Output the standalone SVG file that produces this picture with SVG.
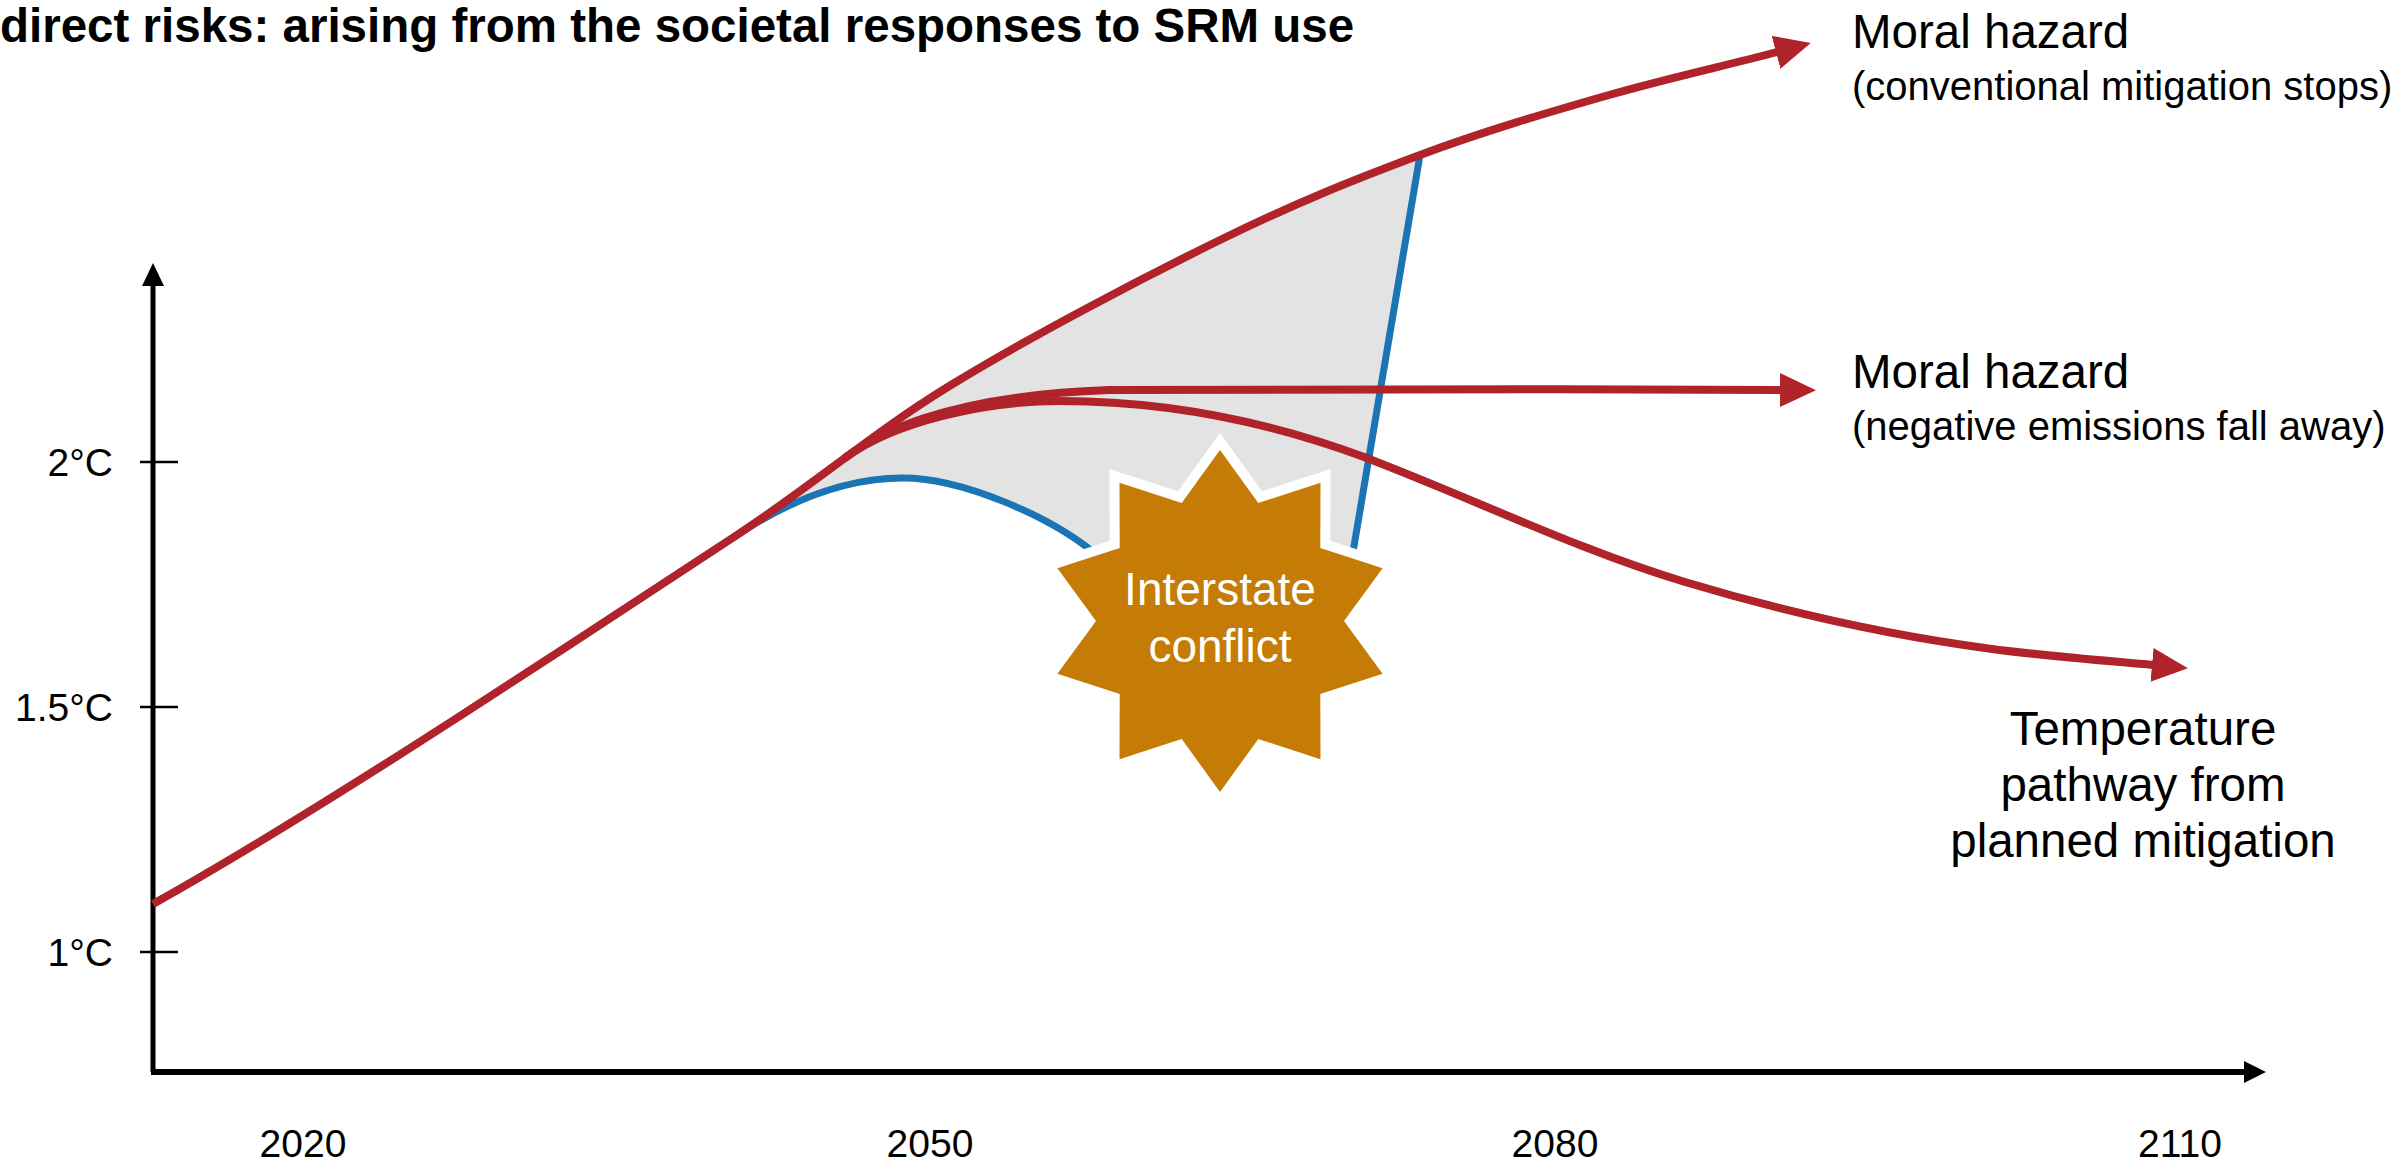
<svg xmlns="http://www.w3.org/2000/svg" width="2402" height="1175" viewBox="0 0 2402 1175">
<style>
.lbl{font-family:"Liberation Sans",Arial,sans-serif;fill:#000}
.big{font-size:47.5px}
.small{font-size:40px}
.tick{font-size:39px}
.red{fill:none;stroke:#b0232b;stroke-width:8}
.blue{fill:none;stroke:#1b74b3;stroke-width:7}
.axis{stroke:#000;fill:none}
</style>
<defs>
<marker id="ah" markerUnits="userSpaceOnUse" markerWidth="40" markerHeight="36" refX="1" refY="17" orient="auto">
<path d="M0,0 L36,17 L0,34 Z" fill="#b0232b"/>
</marker>
</defs>
<rect width="2402" height="1175" fill="#fff"/>

<g id="title">
<text class="lbl" x="0" y="42" font-size="47.5" font-weight="bold">direct risks: arising from the societal responses to SRM use</text>
</g>

<g id="axes">
<line class="axis" x1="153" y1="1072" x2="153" y2="283" stroke-width="5"/>
<polygon points="142,286 164,286 153,263" fill="#000"/>
<line class="axis" x1="151" y1="1072" x2="2246" y2="1072" stroke-width="6"/>
<polygon points="2244,1061 2244,1083 2266,1072" fill="#000"/>
<line class="axis" x1="140" y1="462" x2="178" y2="462" stroke-width="2.5"/>
<line class="axis" x1="140" y1="707" x2="178" y2="707" stroke-width="2.5"/>
<line class="axis" x1="140" y1="952" x2="178" y2="952" stroke-width="2.5"/>
<text class="lbl tick" x="113" y="476" text-anchor="end">2°C</text>
<text class="lbl tick" x="113" y="721" text-anchor="end">1.5°C</text>
<text class="lbl tick" x="113" y="966" text-anchor="end">1°C</text>
<text class="lbl tick" x="303" y="1157" text-anchor="middle">2020</text>
<text class="lbl tick" x="930" y="1157" text-anchor="middle">2050</text>
<text class="lbl tick" x="1555" y="1157" text-anchor="middle">2080</text>
<text class="lbl tick" x="2180" y="1157" text-anchor="middle">2110</text>
</g>

<g id="shaded-area">
<path d="M737,535 C818.8,481.2 870.5,434.2 951,385 C1031.5,335.8 1141.8,278.3 1220,240 C1298.2,201.7 1355.2,179.2 1420,155 L1352,558 L1098,556 C1050,515 960,478 903,478 C855,478 800,493.5 737,535 Z" fill="#e3e3e4"/>
</g>

<g id="connectors">
<path class="blue" d="M460,716 C550,658 677,574.5 737,535 C800,493.5 855,478 903,478 C960,478 1050,515 1098,556"/>
<path class="blue" d="M1352,558 L1420,155"/>
<path class="red" d="M153,904 C253,848 360,780.5 460,716 C550,658 677,574.5 737,535 C818.8,481.2 870.5,434.2 951,385 C1031.5,335.8 1141.8,278.3 1220,240 C1298.2,201.7 1355.2,179.2 1420,155 C1484.8,130.8 1549,112.2 1609,95 C1669,77.8 1723,66.3 1777,52" marker-end="url(#ah)"/>
<path class="red" d="M844.5,458.3 C874,436 940,396 1109,390 C1250,388 1550,389 1781,390" marker-end="url(#ah)"/>
<path class="red" d="M844.5,458.3 C894,421.5 985,401 1060,401 C1161,401 1263,419.5 1364,457 C1471,497.7 1578,549.9 1685,582 C1787,612.6 1890,635.7 1992,649 C2046,656 2099,660.1 2153,665" marker-end="url(#ah)"/>
</g>

<g id="interstate-conflict">
<polygon points="1220,450 1258.3,503.1 1320.5,482.7 1320.3,548.1 1382.6,568.2 1344,621 1382.6,673.8 1320.3,693.9 1320.5,759.3 1258.3,738.9 1220,792 1181.7,738.9 1119.5,759.3 1119.7,693.9 1057.4,673.8 1096,621 1057.4,568.2 1119.7,548.1 1119.5,482.7 1181.7,503.1" fill="#c47c06" stroke="#fff" stroke-width="20" stroke-linejoin="miter" stroke-miterlimit="10" paint-order="stroke"/>
<text class="lbl" x="1220" y="605" font-size="46" text-anchor="middle" style="fill:#fff">Interstate</text>
<text class="lbl" x="1220" y="662" font-size="46" text-anchor="middle" style="fill:#fff">conflict</text>
</g>

<g id="label-moral-hazard-1">
<text class="lbl big" x="1852" y="48">Moral hazard</text>
<text class="lbl small" x="1852" y="100">(conventional mitigation stops)</text>
</g>
<g id="label-moral-hazard-2">
<text class="lbl big" x="1852" y="388">Moral hazard</text>
<text class="lbl small" x="1852" y="440">(negative emissions fall away)</text>
</g>
<g id="label-planned">
<text class="lbl big" x="2143" y="745" text-anchor="middle">Temperature</text>
<text class="lbl big" x="2143" y="801" text-anchor="middle">pathway from</text>
<text class="lbl big" x="2143" y="857" text-anchor="middle">planned mitigation</text>
</g>
</svg>
